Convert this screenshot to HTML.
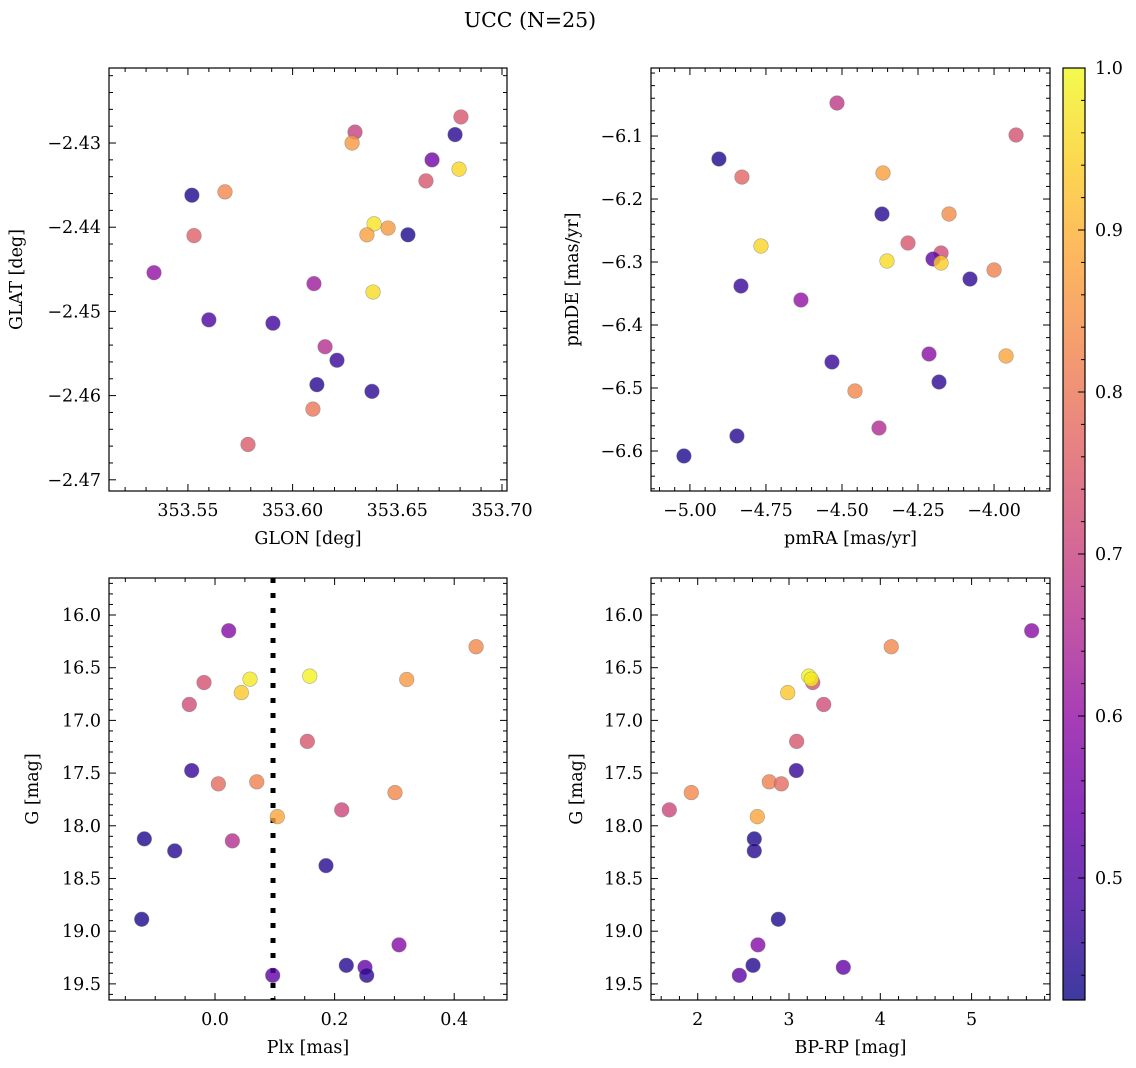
<!DOCTYPE html>
<html><head><meta charset="utf-8">
<style>
html,body{margin:0;padding:0;background:#fff;}
svg{display:block;font-family:"DejaVu Serif","Liberation Serif",serif;}
</style></head>
<body>
<svg id="fig" width="1136" height="1068" viewBox="0 0 1136 1068" xmlns="http://www.w3.org/2000/svg">
<text x="530" y="27" font-size="20.5" text-anchor="middle">UCC (N=25)</text>
</svg>
<script>
// ---- Panel 1: GLON / GLAT ----
const glon = [353.6804,353.6298,353.6776,353.6284,353.6666,353.5519,353.5677,353.6637,353.6795,353.6389,353.6456,353.5529,353.6355,353.6551,353.5338,353.6102,353.6384,353.5600,353.5906,353.6155,353.6212,353.6116,353.6379,353.6097,353.5787];
const glat = [-2.4269,-2.4287,-2.4290,-2.4300,-2.4320,-2.4362,-2.4358,-2.4345,-2.4331,-2.4396,-2.4401,-2.4410,-2.4409,-2.4409,-2.4454,-2.4467,-2.4477,-2.4510,-2.4514,-2.4542,-2.4558,-2.4587,-2.4595,-2.4616,-2.4658];
const prob1 = [0.74,0.70,0.45,0.86,0.55,0.44,0.83,0.74,0.95,0.97,0.86,0.76,0.87,0.44,0.60,0.62,0.96,0.50,0.48,0.66,0.47,0.45,0.46,0.80,0.75];
const xt1 = [353.55,353.60,353.65,353.70]; const xtl1 = ["353.55","353.60","353.65","353.70"];
const yt1 = [-2.43,-2.44,-2.45,-2.46,-2.47]; const ytl1 = ["−2.43","−2.44","−2.45","−2.46","−2.47"];
// ---- Panel 2: pmRA / pmDE ----
const pmra = [-4.5164,-3.9276,-4.9046,-4.829,-4.3651,-4.3684,-4.148,-4.7664,-4.2829,-4.1743,-4.2007,-4.352,-4.1743,-4.0,-4.079,-4.8322,-4.6349,-4.2138,-3.9605,-4.5329,-4.1809,-4.4572,-4.3783,-4.8454,-5.0197];
const pmde = [-6.0476,-6.0984,-6.1365,-6.1651,-6.1587,-6.2238,-6.2238,-6.2746,-6.2698,-6.2857,-6.2952,-6.2984,-6.3016,-6.3127,-6.3270,-6.3381,-6.3603,-6.4460,-6.4492,-6.4587,-6.4905,-6.5048,-6.5635,-6.5762,-6.6079];
const prob2 = [0.68,0.73,0.44,0.77,0.87,0.45,0.84,0.95,0.74,0.72,0.52,0.96,0.94,0.82,0.46,0.47,0.60,0.59,0.88,0.47,0.46,0.83,0.65,0.45,0.44];
const xt2 = [-5.0,-4.75,-4.5,-4.25,-4.0]; const xtl2 = ["−5.00","−4.75","−4.50","−4.25","−4.00"];
const yt2 = [-6.1,-6.2,-6.3,-6.4,-6.5,-6.6]; const ytl2 = ["−6.1","−6.2","−6.3","−6.4","−6.5","−6.6"];
// ---- Panel 3: Plx / G ----
const plx = [0.0229,0.4366,-0.0184,0.0585,0.0440,0.1584,0.3206,-0.0430,0.1544,-0.0390,0.0056,0.0698,0.3010,0.2119,0.1042,-0.1182,-0.0674,0.0290,0.1856,-0.1226,0.3077,0.2196,0.2508,0.2537,0.0965];
const gmag3 = [16.149,16.301,16.641,16.609,16.736,16.580,16.612,16.849,17.199,17.476,17.602,17.583,17.685,17.849,17.913,18.124,18.238,18.143,18.378,18.887,19.130,19.324,19.343,19.419,19.419];
const prob3 = [0.58,0.83,0.73,0.98,0.93,0.99,0.86,0.72,0.74,0.47,0.78,0.82,0.83,0.71,0.88,0.44,0.45,0.66,0.45,0.44,0.58,0.45,0.53,0.46,0.52];
const plxRef = 0.097;
const xt3 = [0.0,0.2,0.4]; const xtl3 = ["0.0","0.2","0.4"];
const yt34 = [16.0,16.5,17.0,17.5,18.0,18.5,19.0,19.5]; const ytl34 = ["16.0","16.5","17.0","17.5","18.0","18.5","19.0","19.5"];
// ---- Panel 4: BP-RP / G ----
const bprp = [5.658,4.120,3.260,3.216,3.244,2.986,3.380,3.084,3.080,2.784,2.916,1.930,1.689,2.653,2.620,2.620,2.883,2.660,2.606,3.595,2.456];
const gmag4 = [16.149,16.301,16.641,16.580,16.609,16.736,16.849,17.199,17.476,17.583,17.602,17.685,17.849,17.913,18.124,18.238,18.887,19.130,19.324,19.343,19.419];
const prob4 = [0.59,0.83,0.73,0.99,0.98,0.93,0.72,0.74,0.47,0.82,0.78,0.83,0.71,0.88,0.44,0.45,0.44,0.58,0.45,0.53,0.52];
const xt4 = [2,3,4,5]; const xtl4 = ["2","3","4","5"];
// ---- Colorbar ----
const cbTicks = [0.5,0.6,0.7,0.8,0.9,1.0]; const cbTickLabels = ["0.5","0.6","0.7","0.8","0.9","1.0"];
const cmin = 0.4247, cmax = 1.0;

const NS = "http://www.w3.org/2000/svg";
const svg = document.getElementById('fig');
const FS = 17.5;
const plasma = ["#0d0887","#41049d","#6a00a8","#8f0da4","#b12a90","#cc4778","#e16462","#f2844b","#fca636","#fcce25","#f0f921"];
function hex(h){return [parseInt(h.substr(1,2),16),parseInt(h.substr(3,2),16),parseInt(h.substr(5,2),16)];}
function cmap(v){
  let t=(v-cmin)/(cmax-cmin); t=Math.max(0,Math.min(1,t));
  const f=t*10, i=Math.min(9,Math.floor(f)), r=f-i;
  const a=hex(plasma[i]), b=hex(plasma[i+1]);
  return "rgb("+a.map((x,k)=>Math.round(x+(b[k]-x)*r)).join(",")+")";
}
function mk(tag, attrs, parent){
  const e=document.createElementNS(NS,tag);
  for(const k in attrs) e.setAttribute(k,attrs[k]);
  (parent||svg).appendChild(e); return e;
}
function panel(p){
  const g=mk('g',{});
  
  
  const sx=v=>p.x0+(v-p.xmin)/(p.xmax-p.xmin)*(p.x1-p.x0);
  const sy=v=>p.yinv ? p.y0+(v-p.ymin)/(p.ymax-p.ymin)*(p.y1-p.y0) : p.y1-(v-p.ymin)/(p.ymax-p.ymin)*(p.y1-p.y0);
  const tg=mk('g',{stroke:'#000','stroke-width':1},g);
  
  
  const lo=(a,b)=>Math.min(a,b), hi=(a,b)=>Math.max(a,b);
  const xa=lo(p.xmin,p.xmax), xb=hi(p.xmin,p.xmax), ya=lo(p.ymin,p.ymax), yb=hi(p.ymin,p.ymax);
  for(let v=Math.ceil(xa/p.xminor-1e-6)*p.xminor; v<=xb+1e-9; v+=p.xminor){
    const X=sx(v); const maj=p.xt.some(t=>Math.abs(t-v)<p.xminor/10); const L=maj?7:4;
    mk('line',{x1:X,x2:X,y1:p.y1,y2:p.y1-L},tg); mk('line',{x1:X,x2:X,y1:p.y0,y2:p.y0+L},tg);
  }
  for(let v=Math.ceil(ya/p.yminor-1e-6)*p.yminor; v<=yb+1e-9; v+=p.yminor){
    const Y=sy(v); const maj=p.yt.some(t=>Math.abs(t-v)<p.yminor/10); const L=maj?7:4;
    mk('line',{x1:p.x0,x2:p.x0+L,y1:Y,y2:Y},tg); mk('line',{x1:p.x1,x2:p.x1-L,y1:Y,y2:Y},tg);
  }
  p.xt.forEach((v,i)=>{
    const t=mk('text',{x:sx(v),y:p.y1+25,'font-size':FS,'text-anchor':'middle'},g); t.textContent=p.xtl[i];
    
    
  });
  p.yt.forEach((v,i)=>{
    const t=mk('text',{x:p.x0-8,y:sy(v)+6,'font-size':FS,'text-anchor':'end'},g); t.textContent=p.ytl[i];
    
    
  });
  const xl=mk('text',{x:(p.x0+p.x1)/2,y:p.y1+53,'font-size':FS,'text-anchor':'middle'},g); xl.textContent=p.xlabel;
  
  
  const yx=p.ylx, yy=(p.y0+p.y1)/2;
  const yl=mk('text',{x:yx,y:yy,'font-size':FS,'text-anchor':'middle',transform:'rotate(-90 '+yx+' '+yy+')'},g); yl.textContent=p.ylabel;
  
  
  if(p.vline!==undefined){
    const l=mk('line',{x1:sx(p.vline),x2:sx(p.vline),y1:p.y0,y2:p.y1,stroke:'#000','stroke-width':5,'stroke-dasharray':'5,10'},g);
    
    
  }
  p.xs.forEach((v,i)=>{
    const c=mk('circle',{cx:sx(v),cy:sy(p.ys[i]),r:7.3,fill:cmap(p.cs[i]),'fill-opacity':0.8,stroke:'#777','stroke-opacity':0.6,'stroke-width':0.6},g);
    
    
  });
  const fr=mk('rect',{x:p.x0,y:p.y0,width:p.x1-p.x0,height:p.y1-p.y0,fill:'none',stroke:'#000','stroke-width':1.2},g);
  
  
}
panel({name:'glon-glat-panel',x0:109,x1:507,y0:68,y1:491,xmin:353.5123,xmax:353.7024,ymin:-2.47133,ymax:-2.42109,xs:glon,ys:glat,cs:prob1,xt:xt1,xtl:xtl1,yt:yt1,ytl:ytl1,xminor:0.01,yminor:0.002,xlabel:'GLON [deg]',ylabel:'GLAT [deg]',ylx:22});
panel({name:'pm-panel',x0:651,x1:1050,y0:68,y1:491,xmin:-5.128,xmax:-3.816,ymin:-6.6635,ymax:-5.992,xs:pmra,ys:pmde,cs:prob2,xt:xt2,xtl:xtl2,yt:yt2,ytl:ytl2,xminor:0.05,yminor:0.02,xlabel:'pmRA [mas/yr]',ylabel:'pmDE [mas/yr]',ylx:578});
panel({name:'plx-g-panel',x0:109,x1:507,y0:578,y1:1000,xmin:-0.1773,xmax:0.4883,ymin:15.649,ymax:19.653,yinv:true,xs:plx,ys:gmag3,cs:prob3,xt:xt3,xtl:xtl3,yt:yt34,ytl:ytl34,xminor:0.05,yminor:0.1,xlabel:'Plx [mas]',ylabel:'G [mag]',ylx:38,vline:plxRef});
panel({name:'cmd-panel',x0:651,x1:1050,y0:578,y1:1000,xmin:1.4885,xmax:5.8587,ymin:15.649,ymax:19.653,yinv:true,xs:bprp,ys:gmag4,cs:prob4,xt:xt4,xtl:xtl4,yt:yt34,ytl:ytl34,xminor:0.2,yminor:0.1,xlabel:'BP-RP [mag]',ylabel:'G [mag]',ylx:582});

const cb=mk('g',{});


const defs=mk('defs',{},cb);
const grad=mk('linearGradient',{id:'pg',x1:0,y1:1,x2:0,y2:0},defs);
for(let k=0;k<=20;k++){const v=cmin+(cmax-cmin)*k/20; mk('stop',{offset:(k/20),'stop-color':cmap(v)},grad);}
const CX0=1063,CX1=1085,CY0=68,CY1=1000;
const cy=v=>CY1-(v-cmin)/(cmax-cmin)*(CY1-CY0);
mk('rect',{x:CX0,y:CY0,width:CX1-CX0,height:CY1-CY0,fill:'url(#pg)','fill-opacity':0.8},cb);
for(let v=Math.ceil(cmin/0.02)*0.02; v<=cmax+1e-9; v+=0.02){
  const maj=cbTicks.some(t=>Math.abs(t-v)<0.002);
  mk('line',{x1:CX1,x2:CX1-(maj?7:4),y1:cy(v),y2:cy(v),stroke:'#000','stroke-width':1},cb);
}
cbTicks.forEach((v,i)=>{
  const t=mk('text',{x:CX1+10,y:cy(v)+6,'font-size':FS},cb); t.textContent=cbTickLabels[i];
  
  
});
mk('rect',{x:CX0,y:CY0,width:CX1-CX0,height:CY1-CY0,fill:'none',stroke:'#000','stroke-width':1.2},cb);
</script>
</body></html>
